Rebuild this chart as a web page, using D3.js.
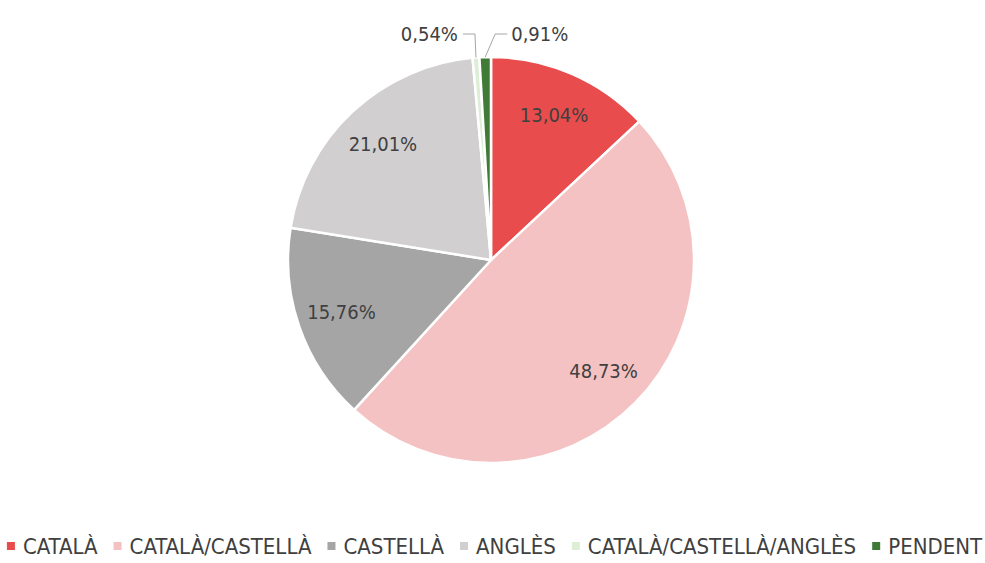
<!DOCTYPE html>
<html>
<head>
<meta charset="utf-8">
<script src="https://cdn.jsdelivr.net/npm/d3@7"></script>
<style>
  body { margin: 0; background: #fff; }
  text { font-family: "Liberation Sans Narrow", "DejaVu Sans Condensed", "Liberation Sans", Arial, sans-serif; fill: #404040; }
</style>
</head>
<body>
<div id="chart"></div>
<script>
const categories = ["CATALÀ", "CATALÀ/CASTELLÀ", "CASTELLÀ", "ANGLÈS", "CATALÀ/CASTELLÀ/ANGLÈS", "PENDENT"];
const values = [13.04, 48.73, 15.76, 21.01, 0.54, 0.91];
const colors = ["#E84C4C", "#F4C2C2", "#A5A5A5", "#D1CFCF", "#DDEED6", "#3F7A37"];

function drawPieChart(tagName, xSize = 985, ySize = 563) {

    const cx = 491, cy = 260, radius = 203;

    d3.select(tagName).select("svg").remove();

    const svg = d3.select(tagName)
        .append("svg")
        .attr("width", xSize)
        .attr("height", ySize);

    const data = categories.map((c, i) => ({ name: c, value: values[i], color: colors[i] }));

    const pie = d3.pie().value(d => d.value).sort(null);
    const arcs = pie(data);

    const arc = d3.arc().innerRadius(0).outerRadius(radius);
    const labelArc = d3.arc().innerRadius(radius * 0.78).outerRadius(radius * 0.78);
    const edgeArc = d3.arc().innerRadius(radius).outerRadius(radius);

    const chart = svg.append("g")
        .attr("transform", `translate(${cx}, ${cy})`);

    // Porciones
    chart.selectAll("path")
        .data(arcs)
        .enter()
        .append("path")
        .attr("d", arc)
        .attr("fill", d => d.data.color)
        .attr("stroke", "#fff")
        .attr("stroke-width", 2.5)
        .attr("stroke-linejoin", "round");

    const fmt = v => v.toFixed(2).replace(".", ",") + "%";

    // Etiquetas dentro
    chart.selectAll("text.inner")
        .data(arcs.filter(d => d.data.value > 5))
        .enter()
        .append("text")
        .attr("class", "inner")
        .attr("transform", d => `translate(${labelArc.centroid(d)})`)
        .attr("text-anchor", "middle")
        .attr("dy", "0.35em")
        .style("font-size", "20px")
        .text(d => fmt(d.data.value));

    // Etiquetas fuera con guía
    const small = arcs.filter(d => d.data.value <= 5);
    const lineY = 34 - cy;
    small.forEach((d, i) => {
        const p = edgeArc.centroid(d);
        const left = i === 0;
        const ex = p[0] + (left ? -1 : 10);
        const hx = ex + (left ? -12 : 12);
        chart.append("polyline")
            .attr("points", [[p[0], p[1]], [ex, lineY], [hx, lineY]].map(q => q.join(",")).join(" "))
            .attr("fill", "none")
            .attr("stroke", "#A6A6A6")
            .attr("stroke-width", 1);
        chart.append("text")
            .attr("x", hx + (left ? -5 : 4))
            .attr("y", lineY)
            .attr("dy", "0.35em")
            .attr("text-anchor", left ? "end" : "start")
            .style("font-size", "20px")
            .text(fmt(d.data.value));
    });

    // Leyenda
    const legend = svg.append("g");
    const boxSize = 8, boxGap = 8, itemGap = 16, legendY = 546;
    let x = 0;
    data.forEach(d => {
        const item = legend.append("g").attr("transform", `translate(${x}, 0)`);
        item.append("rect")
            .attr("x", 0)
            .attr("y", legendY - boxSize / 2)
            .attr("width", boxSize)
            .attr("height", boxSize)
            .attr("fill", d.color);
        const t = item.append("text")
            .attr("x", boxSize + boxGap)
            .attr("y", legendY)
            .attr("dy", "0.35em")
            .style("font-size", "22px")
            .text(d.name);
        x += boxSize + boxGap + t.node().getComputedTextLength() + itemGap;
    });
    const total = x - itemGap;
    legend.attr("transform", `translate(${494.5 - total / 2}, 0)`);
}

drawPieChart("#chart");
</script>
</body>
</html>
